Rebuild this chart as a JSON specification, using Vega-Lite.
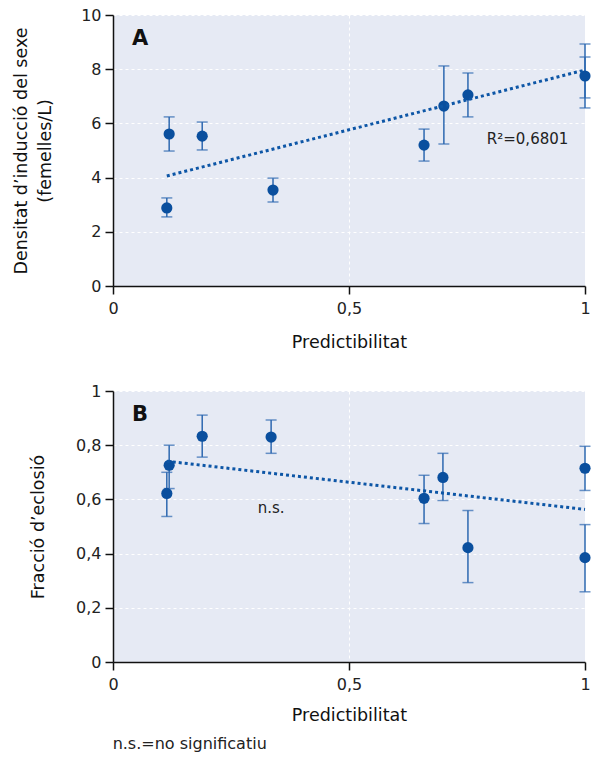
{
  "$schema": "https://vega.github.io/schema/vega-lite/v6.json",
  "background": "white",
  "padding": {"left": 12, "top": 7, "right": 8, "bottom": 5},
  "spacing": 32,
  "title": {"text": "n.s.=no significatiu", "orient": "bottom", "anchor": "start", "dx": 100, "offset": 12, "fontSize": 16, "fontWeight": "normal", "font": "DejaVu Sans", "color": "#222"},
  "config": {
    "font": "DejaVu Sans",
    "view": {"fill": "#e6eaf4", "stroke": null},
    "axis": {
      "domainColor": "#111", "domainWidth": 1.5, "tickColor": "#111", "tickSize": 8, "tickWidth": 1.5,
      "labelFont": "DejaVu Sans", "titleFont": "DejaVu Sans", "labelFlush": false,
      "labelFontSize": 16, "labelColor": "#222", "labelPadding": 4, "titleFontSize": 17.5, "titleFontWeight": "normal", "titleColor": "#111",
      "gridColor": "white", "gridDash": [3, 3], "gridWidth": 1
    }
  },
  "vconcat": [
    {
      "width": 472, "height": 271,
      "layer": [
        {
          "data": {"values": [
            {"x": 0.114, "lo": 2.55, "hi": 3.25},
            {"x": 0.119, "lo": 4.98, "hi": 6.24},
            {"x": 0.189, "lo": 5.02, "hi": 6.05},
            {"x": 0.339, "lo": 3.10, "hi": 3.98},
            {"x": 0.659, "lo": 4.61, "hi": 5.79},
            {"x": 0.701, "lo": 5.24, "hi": 8.12},
            {"x": 0.752, "lo": 6.24, "hi": 7.86},
            {"x": 1.0, "lo": 6.57, "hi": 8.93},
            {"x": 1.0, "lo": 6.94, "hi": 8.45}
          ]},
          "mark": {"type": "errorbar", "ticks": {"size": 11, "thickness": 1.5}, "color": "#2d68b0", "thickness": 1.5},
          "encoding": {
            "x": {"field": "x", "type": "quantitative", "scale": {"domain": [0, 1]},
              "axis": {"title": "Predictibilitat", "values": [0, 0.5, 1], "labelExpr": "replace(format(datum.value, '.1~f'), '.', ',')", "labelPadding": 6, "titlePadding": 17}},
            "y": {"field": "lo", "type": "quantitative", "scale": {"domain": [0, 10]},
              "axis": {"title": ["Densitat d’inducció del sexe", "(femelles/L)"], "values": [0, 2, 4, 6, 8, 10], "titlePadding": 26, "titleLineHeight": 24}},
            "y2": {"field": "hi"}
          }
        },
        {
          "data": {"values": [
            {"x": 0.114, "y": 2.88},
            {"x": 0.119, "y": 5.61},
            {"x": 0.189, "y": 5.53},
            {"x": 0.339, "y": 3.54},
            {"x": 0.659, "y": 5.2},
            {"x": 0.701, "y": 6.64},
            {"x": 0.752, "y": 7.05},
            {"x": 1.0, "y": 7.75}
          ]},
          "mark": {"type": "circle", "size": 125, "color": "#0a4f9e", "opacity": 1},
          "encoding": {
            "x": {"field": "x", "type": "quantitative"},
            "y": {"field": "y", "type": "quantitative"}
          }
        },
        {
          "data": {"values": [{"x": 0.114, "y": 4.06}, {"x": 1.0, "y": 7.97}]},
          "mark": {"type": "line", "color": "#0d56a6", "strokeWidth": 3, "strokeDash": [3, 3]},
          "encoding": {
            "x": {"field": "x", "type": "quantitative"},
            "y": {"field": "y", "type": "quantitative"}
          }
        },
        {
          "data": {"values": [{"x": 0.04, "y": 9.1, "t": "A"}]},
          "mark": {"type": "text", "fontSize": 21, "fontWeight": "bold", "align": "left", "baseline": "middle", "color": "#111"},
          "encoding": {
            "x": {"field": "x", "type": "quantitative"},
            "y": {"field": "y", "type": "quantitative"},
            "text": {"field": "t"}
          }
        },
        {
          "data": {"values": [{"x": 0.792, "y": 5.42, "t": "R²=0,6801"}]},
          "mark": {"type": "text", "fontSize": 15, "align": "left", "baseline": "middle", "color": "#222"},
          "encoding": {
            "x": {"field": "x", "type": "quantitative"},
            "y": {"field": "y", "type": "quantitative"},
            "text": {"field": "t"}
          }
        }
      ]
    },
    {
      "width": 472, "height": 271,
      "layer": [
        {
          "data": {"values": [
            {"x": 0.114, "lo": 0.537, "hi": 0.70},
            {"x": 0.119, "lo": 0.64, "hi": 0.80},
            {"x": 0.189, "lo": 0.756, "hi": 0.911},
            {"x": 0.335, "lo": 0.77, "hi": 0.893},
            {"x": 0.659, "lo": 0.511, "hi": 0.689},
            {"x": 0.699, "lo": 0.596, "hi": 0.77},
            {"x": 0.752, "lo": 0.293, "hi": 0.559},
            {"x": 1.0, "lo": 0.633, "hi": 0.796},
            {"x": 1.0, "lo": 0.259, "hi": 0.507}
          ]},
          "mark": {"type": "errorbar", "ticks": {"size": 11, "thickness": 1.5}, "color": "#2d68b0", "thickness": 1.5},
          "encoding": {
            "x": {"field": "x", "type": "quantitative", "scale": {"domain": [0, 1]},
              "axis": {"title": "Predictibilitat", "values": [0, 0.5, 1], "labelExpr": "replace(format(datum.value, '.1~f'), '.', ',')", "labelPadding": 6, "titlePadding": 14}},
            "y": {"field": "lo", "type": "quantitative", "scale": {"domain": [0, 1]},
              "axis": {"title": "Fracció d’eclosió", "values": [0, 0.2, 0.4, 0.6, 0.8, 1], "labelExpr": "replace(format(datum.value, '.1~f'), '.', ',')", "titlePadding": 28}},
            "y2": {"field": "hi"}
          }
        },
        {
          "data": {"values": [
            {"x": 0.114, "y": 0.622},
            {"x": 0.119, "y": 0.726},
            {"x": 0.189, "y": 0.833},
            {"x": 0.335, "y": 0.83},
            {"x": 0.659, "y": 0.604},
            {"x": 0.699, "y": 0.681},
            {"x": 0.752, "y": 0.422},
            {"x": 1.0, "y": 0.715},
            {"x": 1.0, "y": 0.385}
          ]},
          "mark": {"type": "circle", "size": 125, "color": "#0a4f9e", "opacity": 1},
          "encoding": {
            "x": {"field": "x", "type": "quantitative"},
            "y": {"field": "y", "type": "quantitative"}
          }
        },
        {
          "data": {"values": [{"x": 0.114, "y": 0.741}, {"x": 1.0, "y": 0.563}]},
          "mark": {"type": "line", "color": "#0d56a6", "strokeWidth": 3, "strokeDash": [3, 3]},
          "encoding": {
            "x": {"field": "x", "type": "quantitative"},
            "y": {"field": "y", "type": "quantitative"}
          }
        },
        {
          "data": {"values": [{"x": 0.04, "y": 0.91, "t": "B"}]},
          "mark": {"type": "text", "fontSize": 21, "fontWeight": "bold", "align": "left", "baseline": "middle", "color": "#111"},
          "encoding": {
            "x": {"field": "x", "type": "quantitative"},
            "y": {"field": "y", "type": "quantitative"},
            "text": {"field": "t"}
          }
        },
        {
          "data": {"values": [{"x": 0.335, "y": 0.567, "t": "n.s."}]},
          "mark": {"type": "text", "fontSize": 15, "align": "center", "baseline": "middle", "color": "#222"},
          "encoding": {
            "x": {"field": "x", "type": "quantitative"},
            "y": {"field": "y", "type": "quantitative"},
            "text": {"field": "t"}
          }
        }
      ]
    }
  ]
}
